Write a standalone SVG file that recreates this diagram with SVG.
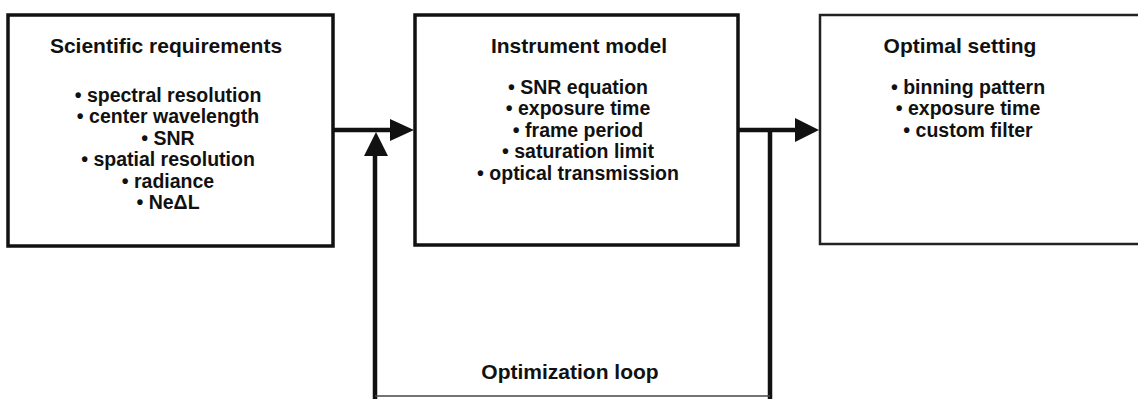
<svg xmlns="http://www.w3.org/2000/svg" width="1138" height="399" viewBox="0 0 1138 399">
<style>
.box{fill:#fff;stroke:#111;stroke-width:3.5}
.box3{fill:#fff;stroke:#222;stroke-width:2.5}
.title{font-family:"Liberation Sans",Arial,sans-serif;font-weight:bold;font-size:21px;fill:#111;text-anchor:middle}
.item{font-family:"Liberation Sans",Arial,sans-serif;font-weight:bold;font-size:19.5px;fill:#111;text-anchor:middle}
.conn{fill:none;stroke:#111;stroke-width:4.5}
.head{fill:#111}
</style>
<rect width="1138" height="399" fill="#fff"/>
<g id="node-requirements">
<rect class="box" x="8" y="15" width="325" height="231"/>
<text class="title" x="166" y="53">Scientific requirements</text>
<text class="item" x="168" y="102">• spectral resolution</text>
<text class="item" x="168" y="123">• center wavelength</text>
<text class="item" x="168" y="145">• SNR</text>
<text class="item" x="168" y="166">• spatial resolution</text>
<text class="item" x="168" y="188">• radiance</text>
<text class="item" x="168" y="209">• NeΔL</text>
</g>
<g id="node-model">
<rect class="box" x="415" y="15" width="323" height="230"/>
<text class="title" x="579" y="53">Instrument model</text>
<text class="item" x="578" y="94">• SNR equation</text>
<text class="item" x="578" y="115">• exposure time</text>
<text class="item" x="578" y="137">• frame period</text>
<text class="item" x="578" y="158">• saturation limit</text>
<text class="item" x="578" y="180">• optical transmission</text>
</g>
<g id="node-setting">
<rect class="box3" x="820" y="15" width="330" height="229"/>
<text class="title" x="960" y="53">Optimal setting</text>
<text class="item" x="968" y="94">• binning pattern</text>
<text class="item" x="968" y="115">• exposure time</text>
<text class="item" x="968" y="137">• custom filter</text>
</g>
<g id="connectors">
<path class="conn" d="M333 130 H392"/>
<polygon class="head" points="390,119 414,130 390,141"/>
<path class="conn" d="M375 399 V154"/>
<polygon class="head" points="364,156 376,132 388,156"/>
<path class="conn" d="M738 130 H797"/>
<polygon class="head" points="795,118 819,130 795,142"/>
<path class="conn" d="M770 130 V399"/>
<path d="M375 396 H770" fill="none" stroke="#444" stroke-width="1.5"/>
<text class="title" x="570" y="379">Optimization loop</text>
</g>
</svg>
